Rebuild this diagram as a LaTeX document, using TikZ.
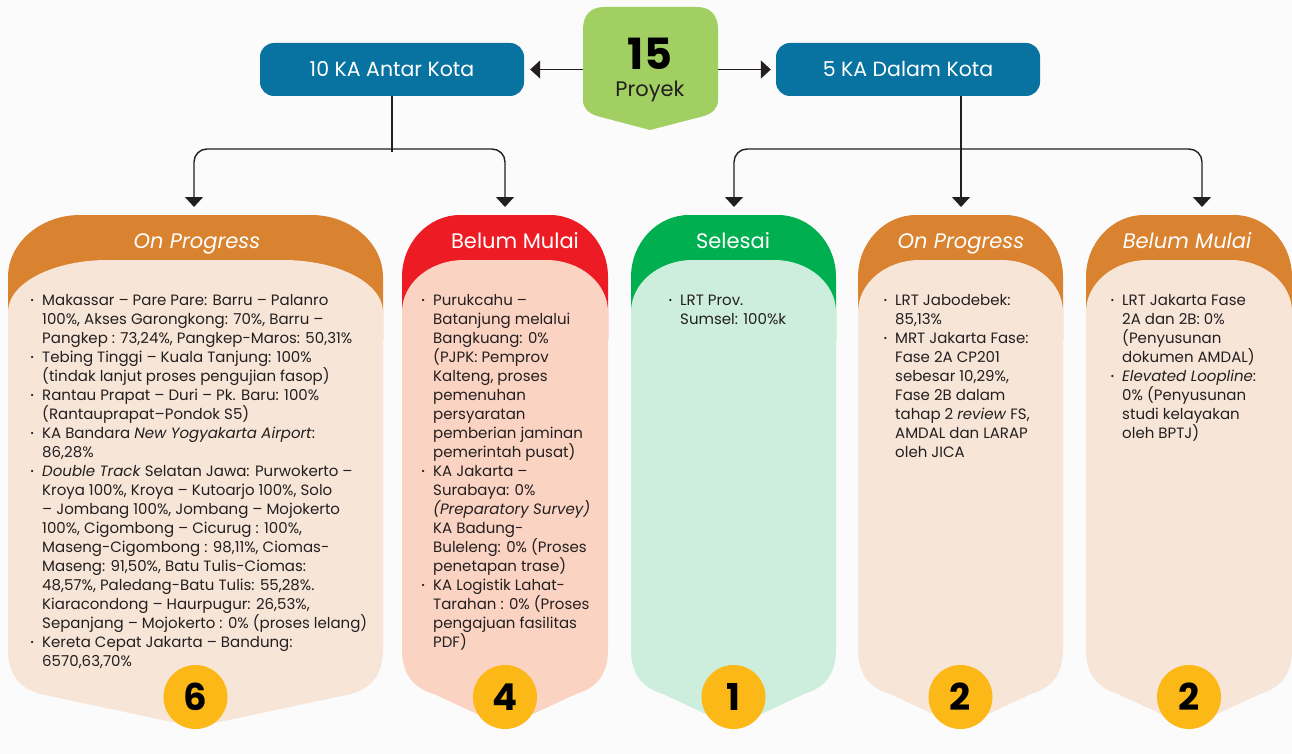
\documentclass[tikz,border=0pt]{standalone}
\usepackage{fontspec}
\setmainfont{Poppins}
\usepackage{graphicx}
\usetikzlibrary{arrows.meta}

\definecolor{boxblue}{HTML}{0873A0}
\definecolor{totalgreen}{HTML}{A1CF62}
\definecolor{hdrorange}{HTML}{D9822F}
\definecolor{hdrred}{HTML}{ED1C24}
\definecolor{hdrgreen}{HTML}{00B050}
\definecolor{bodyorange}{HTML}{F7E6D8}
\definecolor{bodyred}{HTML}{FBD3C3}
\definecolor{bodygreen}{HTML}{CDEEDC}
\definecolor{coin}{HTML}{FCB817}
\definecolor{ink}{HTML}{231F20}
\definecolor{paper}{HTML}{FBFBFB}

% small list bullet hung to the left of the text
\newcommand\bul{\llap{\raisebox{2pt}{\scalebox{0.6}{\textbullet}}\hspace{8pt}}}
% fixed height for the first line of a list, so its baseline sits 14pt below the top
\newcommand\firstline{\rule{0pt}{14pt}}

% status column: #1 left x, #2 right x, #3 header colour, #4 body colour,
% #5 horizontal radius of header corners, #6 horizontal radius of body corners
\newcommand\statuscol[6]{%
  \pgfmathsetmacro\cmid{(#1+#2)/2}%
  \fill[#3] (#1,340) -- (#1,277) .. controls (#1,243) and (#1+0.45*#5,215) .. (#1+#5,215)
     -- (#2-#5,215) .. controls (#2-0.45*#5,215) and (#2,243) .. (#2,277) -- (#2,340) -- cycle;
  \fill[#4] (#1,650) -- (#1,312) .. controls (#1,283) and (#1+0.45*#6,260) .. (#1+#6,260)
     -- (#2-#6,260) .. controls (#2-0.45*#6,260) and (#2,283) .. (#2,312) -- (#2,650)
     .. controls (#2,675) and (#2-12,688) .. (#2-32,694) -- (\cmid,727)
     -- (#1+32,694) .. controls (#1+12,688) and (#1,675) .. (#1,650) -- cycle;
}

\tikzset{
  groupbox/.style={fill=boxblue, rounded corners=14pt, minimum width=264pt, minimum height=53pt,
    text=white, font=\fontsize{20.5}{24}\selectfont, inner sep=0pt},
  hdrtext/.style={text=white, anchor=base, font=\fontsize{21}{25}\selectfont, inner sep=0pt},
  bodytext/.style={text=ink, align=left, inner sep=0pt, anchor=north west,
    font=\fontsize{15}{19}\selectfont},
  coinnode/.style={circle, fill=coin, minimum size=64pt, inner sep=0pt, text=black,
    font=\fontsize{37}{37}\selectfont\bfseries},
  link/.style={draw=ink, line width=1.4pt},
  arrowlink/.style={link, -{Triangle[length=10pt, width=18pt]}},
}

\begin{document}
\begin{tikzpicture}[x=1pt, y=-1pt]
\useasboundingbox (0,0) rectangle (1292,754);
\fill[paper] (0,0) rectangle (1292,754);

% total box: rounded top, pointed bottom
\node[minimum width=135pt, minimum height=110pt, inner sep=0pt] (pk) at (650.5,62) {};
\fill[totalgreen] (583,100) -- (583,29) .. controls (583,16) and (590,7) .. (604,7)
   -- (697,7) .. controls (711,7) and (718,16) .. (718,29) -- (718,100)
   .. controls (718,108) and (713,113) .. (704,116) -- (650,130) -- (597,116)
   .. controls (588,113) and (583,108) .. (583,100) -- cycle;
\node[inner sep=0pt, anchor=base, text=black, font=\fontsize{43}{43}\selectfont\bfseries] (n15) at (650,70) {15};
\node[inner sep=0pt, anchor=base, text=ink, font=\fontsize{21}{25}\selectfont] (pry) at (650,97) {Proyek};

% group boxes
\node[groupbox] (lb) at (392,69.5) {10 KA Antar Kota};
\node[groupbox] (rb) at (908,69.5) {5 KA Dalam Kota};

\draw[arrowlink, shorten >=6pt] (pk.west |- lb.east) -- (lb.east);
\draw[arrowlink, shorten >=5pt] (pk.east |- rb.west) -- (rb.west);

% branch points and arrow ends above the columns
\coordinate (jl) at (392,149);
\coordinate (jr) at (961,149);
\coordinate (t1) at (194,207);
\coordinate (t2) at (505,207);
\coordinate (t3) at (734,207);
\coordinate (t4) at (961,207);
\coordinate (t5) at (1202,207);

\draw[link] (lb.south) -- ([yshift=-3pt]jl);
\draw[arrowlink, rounded corners=13pt] (jl) -| (t1);
\draw[arrowlink, rounded corners=13pt] (jl) -| (t2);
\draw[arrowlink] (rb.south -| t4) -- (t4);
\draw[arrowlink, rounded corners=13pt] (jr) -| (t3);
\draw[arrowlink, rounded corners=13pt] (jr) -| (t5);

% status columns
\statuscol{8}{383}{hdrorange}{bodyorange}{72}{100}
\statuscol{402}{608}{hdrred}{bodyred}{58}{62}
\statuscol{631}{836}{hdrgreen}{bodygreen}{58}{62}
\statuscol{858}{1063}{hdrorange}{bodyorange}{58}{62}
\statuscol{1086}{1292}{hdrorange}{bodyorange}{58}{62}

\node[hdrtext] (h1) at (197,248) {\itshape On Progress};
\node[hdrtext] (h2) at (515,248) {Belum Mulai};
\node[hdrtext] (h3) at (733,248) {Selesai};
\node[hdrtext] (h4) at (961,248) {\itshape On Progress};
\node[hdrtext] (h5) at (1187,248) {\itshape Belum Mulai};

\node[bodytext] (b1) at (42,291) {%
\firstline\bul Makassar – Pare Pare: Barru – Palanro\\
100\%, Akses Garongkong: 70\%, Barru –\\
Pangkep : 73,24\%, Pangkep-Maros: 50,31\%\\
\bul Tebing Tinggi – Kuala Tanjung: 100\%\\
(tindak lanjut proses pengujian fasop)\\
\bul Rantau Prapat – Duri – Pk. Baru: 100\%\\
(Rantauprapat–Pondok S5)\\
\bul KA Bandara \textit{New Yogyakarta Airport}:\\
86,28\%\\
\bul \textit{Double Track} Selatan Jawa: Purwokerto –\\
Kroya 100\%, Kroya – Kutoarjo 100\%, Solo\\
– Jombang 100\%, Jombang – Mojokerto\\
100\%, Cigombong – Cicurug : 100\%,\\
Maseng-Cigombong : 98,11\%, Ciomas-\\
Maseng: 91,50\%, Batu Tulis-Ciomas:\\
48,57\%, Paledang-Batu Tulis: 55,28\%.\\
Kiaracondong – Haurpugur: 26,53\%,\\
Sepanjang – Mojokerto : 0\% (proses lelang)\\
\bul Kereta Cepat Jakarta – Bandung:\\
6570,63,70\%};

\node[bodytext] (b2) at (433,291) {%
\firstline\bul Purukcahu –\\
Batanjung melalui\\
Bangkuang: 0\%\\
(PJPK: Pemprov\\
Kalteng, proses\\
pemenuhan\\
persyaratan\\
pemberian jaminan\\
pemerintah pusat)\\
\bul KA Jakarta –\\
Surabaya: 0\%\\
\textit{(Preparatory Survey)}\\
KA Badung-\\
Buleleng: 0\% (Proses\\
penetapan trase)\\
\bul KA Logistik Lahat-\\
Tarahan : 0\% (Proses\\
pengajuan fasilitas\\
PDF)};

\node[bodytext] (b3) at (680,291) {%
\firstline\bul LRT Prov.\\
Sumsel: 100\%k};

\node[bodytext] (b4) at (895,291) {%
\firstline\bul LRT Jabodebek:\\
85,13\%\\
\bul MRT Jakarta Fase:\\
Fase 2A CP201\\
sebesar 10,29\%,\\
Fase 2B dalam\\
tahap 2 \textit{review} FS,\\
AMDAL dan LARAP\\
oleh JICA};

\node[bodytext] (b5) at (1122,291) {%
\firstline\bul LRT Jakarta Fase\\
2A dan 2B: 0\%\\
(Penyusunan\\
dokumen AMDAL)\\
\bul \textit{Elevated Loopline}:\\
0\% (Penyusunan\\
studi kelayakan\\
oleh BPTJ)};

% project counts
\node[coinnode] (c1) at (195.5,697) {6};
\node[coinnode] (c2) at (505,697) {4};
\node[coinnode] (c3) at (733.5,697) {1};
\node[coinnode] (c4) at (960.5,697) {2};
\node[coinnode] (c5) at (1189,697) {2};
\end{tikzpicture}
\end{document}
